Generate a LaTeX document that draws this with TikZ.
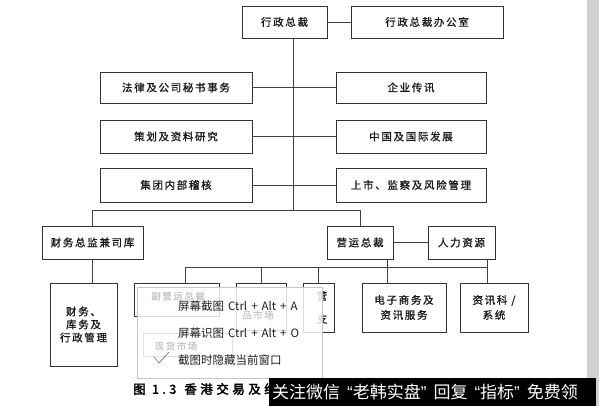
\documentclass[tikz,border=0pt]{standalone}
\usepackage{fontspec}
\newfontfamily\cjk{Noto Sans CJK SC}[LetterSpace=16, FakeBold=1]
\newfontfamily\cjkplain{Noto Sans CJK SC}
\newfontfamily\cjkcap{Noto Sans CJK SC}[LetterSpace=28, FakeBold=2.5]
\newfontfamily\latq{Liberation Sans}
\newcommand{\mgap}{\hspace{4pt}}
\newcommand{\bgap}{\hspace{7pt}}
\begin{document}
\begin{tikzpicture}[x=1pt,y=-1pt,
  box/.style={draw=black!80, line width=0.9pt, fill=white, inner sep=0pt, align=center,
              font=\cjk\fontsize{10.5}{14}\selectfont, text=black!90},
  conn/.style={draw=black!75, line width=0.9pt},
  menu/.style={anchor=west, inner sep=0pt, font=\cjkplain\fontsize{11.5}{13}\selectfont, text=black!88},
  faint/.style={text=black!22, inner sep=0pt, font=\cjk\fontsize{9.5}{12}\selectfont}]
\useasboundingbox (0,0) rectangle (599,406);
\fill[white] (0,0) rectangle (599,406);
\fill[black!18] (587,0) rectangle (599,406);
% top level
\node[box, minimum width=85pt, minimum height=32pt] (ceo) at (284.5,22) {行政总裁};
\node[box, minimum width=152pt, minimum height=32pt] (ceooff) at (427,22) {行政总裁办公室};
\node[box, minimum width=152pt, minimum height=31pt] (legal) at (176,87.5) {法律及公司秘书事务};
\node[box, minimum width=150pt, minimum height=31pt] (corp) at (411,87.5) {企业传讯};
\node[box, minimum width=152pt, minimum height=33pt] (plan) at (176,136.5) {策划及资料研究};
\node[box, minimum width=150pt, minimum height=33pt] (china) at (411,136.5) {中国及国际发展};
\node[box, minimum width=152pt, minimum height=34pt] (audit) at (176,185) {集团内部稽核};
\node[box, minimum width=150pt, minimum height=34pt] (listing) at (411,185) {上市、监察及风险管理};
\node[box, minimum width=101pt, minimum height=33pt] (cfo) at (92.5,242.5) {财务总监兼司库};
\node[box, minimum width=66pt, minimum height=33pt] (coo) at (360,242.5) {营运总裁};
\node[box, minimum width=67pt, minimum height=33pt] (hr) at (461.5,242.5) {人力资源};
\node[box, minimum width=67pt, minimum height=83pt, font=\cjk\fontsize{10.5}{13}\selectfont] (fin) at (83.5,324.5) {财务、\\库务及\\行政管理};
\node[box, minimum width=85pt, minimum height=33pt] (b1) at (176.5,299.5) {};
\node[box, minimum width=50pt, minimum height=47pt] (b2) at (261,306.5) {};
\node[box, minimum width=31pt, minimum height=49pt] (b3) at (318.5,307.5) {};
\node[inner sep=0pt, align=center, font=\cjk\fontsize{10.5}{23}\selectfont, text=black!90] (b3t) at (322,307.5) {营\\支};
\node[box, minimum width=84pt, minimum height=49pt, font=\cjk\fontsize{10.5}{15}\selectfont] (ecom) at (404,307.5) {电子商务及\\资讯服务};
\node[box, minimum width=68pt, minimum height=49pt, font=\cjk\fontsize{10.5}{15}\selectfont] (it) at (494,307.5) {资讯科 /\\系统};
% connectors
\coordinate (trunk) at (293.5,38);
\coordinate (busY) at (0,210);
\coordinate (lowY) at (0,267);
\draw[conn] (ceo.east) -- (ceooff.west);
\draw[conn] (ceo.south -| trunk) -- (trunk |- busY);
\draw[conn] (legal.east) -- (corp.west);
\draw[conn] (plan.east) -- (china.west);
\draw[conn] (audit.east) -- (listing.west);
\draw[conn] (cfo.north) -- (cfo.north |- busY) -- (coo.north |- busY) -- (coo.north);
\draw[conn] (cfo.south) -- (cfo.south |- fin.north);
\draw[conn] (coo.east) -- (hr.west);
\coordinate (cooDrop) at (387,259);
\coordinate (hrDrop) at (487,259);
\coordinate (b1Drop) at (185,283);
\draw[conn] (cooDrop) -- (cooDrop |- ecom.north);
\draw[conn] (hrDrop) -- (hrDrop |- it.north);
\draw[conn] (b1Drop) -- (b1Drop |- lowY) -- (hrDrop |- lowY);
\draw[conn] (b2.north) -- (b2.north |- lowY);
\draw[conn] (b3.north) -- (b3.north |- lowY);
% popup overlay
\node[draw=black!22, line width=0.5pt, fill=white, fill opacity=0.82, minimum width=185pt, minimum height=91pt, inner sep=0pt] (popup) at (229.5,332.5) {};
\node[draw=black!12, line width=0.8pt, minimum width=89pt, minimum height=23pt, inner sep=0pt] (spot) at (187.5,344.5) {};
\node[faint] (spott) at (176,346) {现货市场};
\node[faint] (b1t) at (178,296) {副营运总裁};
\node[faint] (b2t) at (258,315) {品市场};
\node[menu] (m1) at (178,306) {屏幕截图\mgap Ctrl\mgap +\mgap Alt\mgap +\mgap A};
\node[menu] (m2) at (178,333) {屏幕识图\mgap Ctrl\mgap +\mgap Alt\mgap +\mgap O};
\node[menu] (m3) at (178,360) {截图时隐藏当前窗口};
\coordinate (ck1) at (154,357);
\coordinate (ck2) at (159,363);
\coordinate (ck3) at (169,352);
\draw[black!55, line width=0.7pt] (ck1) -- (ck2) -- (ck3);
% caption
\node[anchor=west, inner sep=0pt, font=\cjkcap\fontsize{12.5}{14}\selectfont, text=black] (cap) at (133,389) {图 1.3\hspace{8pt}香港交易及结};
% banner
\fill[black] (269,378) rectangle (596,406);
\begin{scope}
\clip (269,378) rectangle (596,406);
\node[anchor=west, inner sep=0pt, font=\cjkplain\fontsize{17}{20}\selectfont, text=white] (ban) at (272,392) {关注微信\bgap{\latq “}老韩实盘{\latq ”}\bgap 回复\bgap{\latq “}指标{\latq ”}\bgap 免费领};
\end{scope}
\end{tikzpicture}
\end{document}
